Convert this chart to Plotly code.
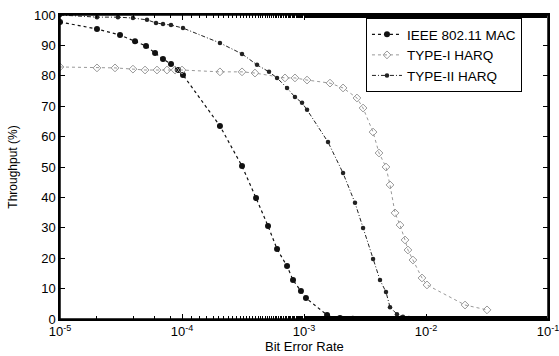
import plotly.graph_objects as go

# Data (log10 of BER, throughput %)
ieee_logx = [-5.0, -4.697, -4.508, -4.385, -4.295, -4.221, -4.156, -4.090, -4.033, -3.992,
             -3.689, -3.508, -3.393, -3.295, -3.221, -3.139, -3.090, -3.025, -2.984, -2.811,
             -2.705, -2.60, -2.52, -2.42, -2.34, -2.26, -2.18, -2.10, -1.90, -1.72, -1.54]
ieee_y = [97.7, 95.4, 93.4, 91.4, 89.8, 87.5, 85.5, 83.9, 81.9, 80.3,
          63.5, 50.3, 39.8, 30.6, 23.0, 17.4, 12.8, 9.2, 6.9, 1.3,
          0.3, 0.1, 0.0, 0.0, 0.0, 0.0, 0.0, 0.0, 0.0, 0.0, 0.0]

type1_logx = [-5.0, -4.697, -4.549, -4.402, -4.303, -4.205, -4.123, -4.057, -4.0, -3.689,
              -3.508, -3.402, -3.156, -3.074, -2.975, -2.787, -2.680, -2.566, -2.516, -2.434,
              -2.385, -2.328, -2.295, -2.254, -2.213, -2.172, -2.148, -2.107, -2.033, -1.992,
              -1.680, -1.500]
type1_y = [82.9, 82.6, 82.6, 82.2, 81.9, 81.9, 81.9, 81.9, 81.9, 81.3,
           81.3, 80.9, 79.3, 79.3, 78.6, 77.6, 76.0, 72.7, 69.4, 61.5,
           54.6, 50.0, 44.1, 34.9, 30.9, 26.0, 22.7, 19.4, 13.5, 11.2,
           4.6, 3.0]

type2_logx = [-5.0, -4.697, -4.525, -4.402, -4.287, -4.213, -4.156, -4.090, -3.992, -3.689,
              -3.508, -3.385, -3.287, -3.221, -3.139, -3.074, -3.016, -2.975, -2.803, -2.680,
              -2.582, -2.516, -2.434, -2.377, -2.328, -2.295, -2.238, -2.189, -2.14, -2.09, -2.04, -1.99]
type2_y = [100.0, 99.3, 99.3, 99.0, 98.4, 97.4, 97.0, 96.7, 95.7, 90.8,
           87.2, 83.6, 81.3, 79.3, 76.0, 73.0, 71.1, 68.8, 58.2, 48.0,
           38.2, 29.9, 19.7, 12.8, 8.9, 3.9, 1.6, 0.7, 0.3, 0.1, 0.0, 0.0]

y_ticks = [0, 10, 20, 30, 40, 50, 60, 70, 80, 90, 100]
x_tick_exps = [-5, -4, -3, -2, -1]
x_tick_vals = [10.0 ** e for e in x_tick_exps]
x_tick_text = ["10<sup>%d</sup>" % e for e in x_tick_exps]

ieee_x = [10 ** v for v in ieee_logx]
type1_x = [10 ** v for v in type1_logx]
type2_x = [10 ** v for v in type2_logx]

fig = go.Figure()
fig.add_trace(go.Scatter(
    x=ieee_x, y=ieee_y, name="IEEE 802.11 MAC", mode="lines+markers",
    line=dict(color="#111111", width=1.2, dash="3px,3px"),
    marker=dict(symbol="circle", size=6, color="#111111")))
fig.add_trace(go.Scatter(
    x=type1_x, y=type1_y, name="TYPE-I HARQ", mode="lines+markers",
    line=dict(color="#999999", width=1, dash="dot"),
    marker=dict(symbol="diamond-open", size=6, color="#999999", line=dict(width=1))))
fig.add_trace(go.Scatter(
    x=type2_x, y=type2_y, name="TYPE-II HARQ", mode="lines+markers",
    line=dict(color="#222222", width=1, dash="4px,2px,1px,2px"),
    marker=dict(symbol="circle", size=4.5, color="#222222")))

fig.update_layout(
    width=559, height=356,
    margin=dict(l=60, r=11, t=15, b=37, autoexpand=False),
    paper_bgcolor="white", plot_bgcolor="white",
    font=dict(family="Liberation Sans, Arial, sans-serif", size=13, color="black"),
    showlegend=True,
    legend=dict(x=0.627, y=0.99, xanchor="left", yanchor="top",
                bordercolor="black", borderwidth=1, bgcolor="white",
                font=dict(size=13.5), tracegroupgap=0, itemwidth=30),
    shapes=[dict(type="rect", xref="paper", yref="paper", x0=0, y0=0, x1=1, y1=1,
                 line=dict(color="black", width=1.5), layer="above")],
    annotations=[dict(text="Bit Error Rate", xref="paper", yref="paper",
                      x=0.5, y=-0.092, xanchor="center", yanchor="middle",
                      showarrow=False, font=dict(size=13))],
)
fig.update_xaxes(
    type="log", range=[-5, -1], tickvals=x_tick_vals, ticktext=x_tick_text,
    showgrid=False, zeroline=False,
    showline=True, linecolor="black", linewidth=1.5, mirror="ticks",
    ticks="inside", ticklen=5, tickcolor="black",
    minor=dict(ticks="inside", ticklen=3, tickcolor="black", showgrid=False),
    tickfont=dict(size=13), ticklabelstandoff=0, ticklabeloverflow="allow",
)
fig.update_yaxes(
    range=[0, 100], tickvals=y_ticks,
    showgrid=False, zeroline=False,
    showline=True, linecolor="black", linewidth=1.5, mirror="ticks",
    ticks="inside", ticklen=5, tickcolor="black",
    tickfont=dict(size=13),
    title=dict(text="Throughput (%)", font=dict(size=12), standoff=14),
)

fig.write_html("out.html", config={"displayModeBar": False},
               post_script="document.body.style.margin='0';document.body.style.overflow='hidden';")
